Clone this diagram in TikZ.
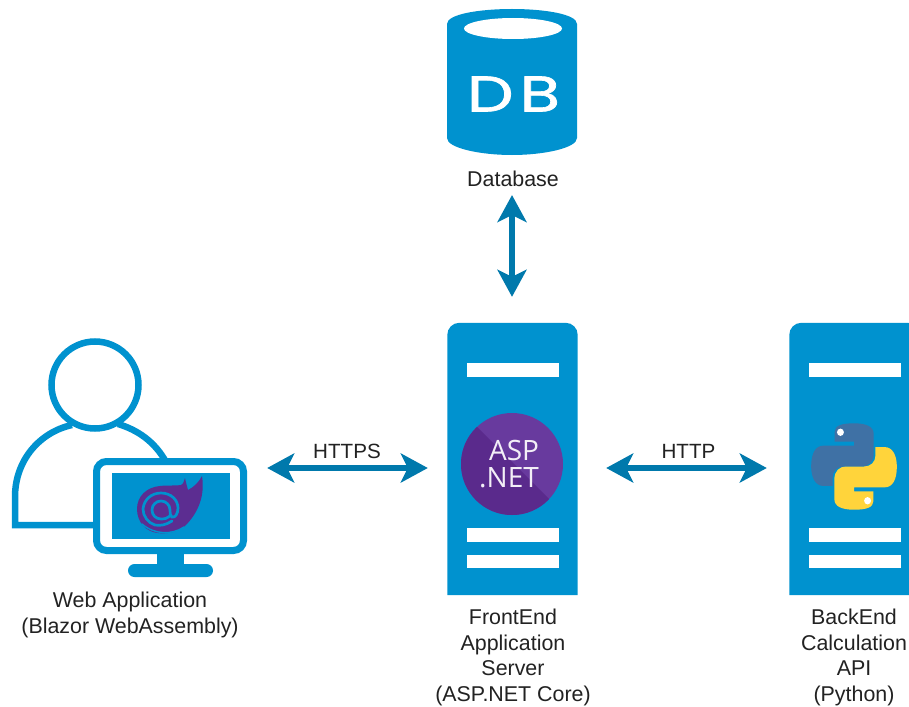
\documentclass[tikz,border=0pt]{standalone}
\usepackage{fontspec}
\setmainfont{Liberation Sans}
\newfontfamily\logofont{Open Sans}
\newfontfamily\dbfont[FakeBold=1.2]{Poppins}
\usetikzlibrary{arrows.meta}
\definecolor{iconblue}{HTML}{0092CF}
\definecolor{arrowblue}{HTML}{0079AC}
\definecolor{aspdark}{HTML}{5A2A8C}
\definecolor{asplight}{HTML}{683A9E}
\definecolor{blazor}{HTML}{5C2D91}
\definecolor{pyblue}{HTML}{3F71A5}
\definecolor{pyyellow}{HTML}{FFD43B}
\definecolor{labeltext}{HTML}{222222}
\tikzset{
  box/.style={rectangle,inner sep=0pt,minimum width=#1},
  lbl/.style={font=\fontsize{21.4}{25.7}\selectfont,text=labeltext,align=center,inner sep=0pt},
  biarrow/.style={draw=arrowblue,line width=5.2pt,{Stealth[length=27pt,width=29pt,inset=7pt]}-{Stealth[length=27pt,width=29pt,inset=7pt]}},
  outline/.style={draw=iconblue,line width=6.5pt},
  bar/.style={fill=white},
  spiral/.style={draw=iconblue,line width=2.7pt,line cap=round}
}
\newcommand{\serverbody}[1]{%
  \fill[iconblue,rounded corners=12pt] (#1.south west) -- (#1.north west) -- (#1.north east) [sharp corners] -- (#1.south east) -- cycle;
}
\newcommand{\serverbars}[1]{%
  \fill[bar] (#1,363) rectangle +(92,14);
  \fill[bar] (#1,528) rectangle +(92,14);
  \fill[bar] (#1,555) rectangle +(92,13);
}
\newcommand{\pysnake}{%
  (-19,-32) .. controls (-19,-38) and (-12,-40) .. (0,-40)
  .. controls (12,-40) and (19.3,-37) .. (19.3,-30) -- (19.3,-12)
  .. controls (19.3,-4) and (14,0) .. (8,0) -- (-10,0)
  .. controls (-16,0) and (-21,4) .. (-21,10) -- (-21,18) -- (-30,18)
  .. controls (-38,18) and (-42,10) .. (-42,0)
  .. controls (-42,-12) and (-38,-19.3) .. (-30,-19.3)
  -- (0,-19.3) -- (0,-23) -- (-19,-23) -- cycle
}
\begin{document}
\begin{tikzpicture}[x=1pt,y=-1pt]
\clip (0,0) rectangle (909,706);
\fill[white] (0,0) rectangle (909,706);

% anchors of the icons
\node[box=130pt,minimum height=146pt] (db) at (512,82) {};
\node[box=130pt,minimum height=272pt] (front) at (512.5,459) {};
\node[box=130pt,minimum height=272pt] (back) at (854.5,459) {};
\node[box=235pt,minimum height=234pt] (user) at (129.5,459) {};

% database
\fill[iconblue] (447,24) .. controls (447,14) and (480,9) .. (512,9)
  .. controls (544,9) and (577,14) .. (577,24) -- (577,138)
  .. controls (577,148) and (544,155) .. (512,155)
  .. controls (480,155) and (447,148) .. (447,138) -- cycle;
\fill[white] (513,28.5) ellipse[x radius=49pt,y radius=10.5pt];
\node[text=white,inner sep=0pt,font=\dbfont\fontsize{54}{54}\selectfont] (dbtext) at (513.5,94) {\scalebox{1.22}[0.93]{D\kern5pt B}};

% servers
\serverbody{front}
\serverbars{467}
\serverbody{back}
\serverbars{809}

% ASP.NET logo
\begin{scope}
  \clip (512,464) circle[radius=51pt];
  \fill[asplight] (460,410) rectangle (565,520);
  \fill[aspdark] (470,420) -- (552,502) -- (552,520) -- (460,520) -- (460,420) -- cycle;
\end{scope}
\node[text=white!92!asplight,inner sep=0pt,font=\logofont\fontsize{28}{28}\selectfont] (asp) at (514,450) {ASP};
\node[text=white!92!asplight,inner sep=0pt,font=\logofont\fontsize{28}{28}\selectfont] (net) at (509,478) {.NET};

% python logo
\begin{scope}[shift={(854,466.5)},xscale=1.02,yscale=1.08]
  \fill[pyblue] \pysnake;
  \fill[white] (-13.3,-31.7) circle[radius=3.4pt];
  \begin{scope}[rotate=180]
    \fill[pyyellow] \pysnake;
    \fill[white] (-13.3,-31.7) circle[radius=3.4pt];
  \end{scope}
\end{scope}

% person
\draw[outline] (95,385) circle[radius=43.5pt];
\draw[outline] (72,425) .. controls (40,432) and (15,460) .. (15,497) -- (15,525) -- (96,525);
\draw[outline] (118,424) .. controls (138,430) and (155,442) .. (166,462);

% monitor
\fill[iconblue] (157,550) rectangle (184,568);
\fill[iconblue,rounded corners=6.5pt] (128,564) rectangle (213,577);
\draw[draw=iconblue,fill=white,line width=7pt,rounded corners=10pt] (96.5,461.5) rectangle (243.5,550.5);
\fill[iconblue] (112,473) rectangle (230,539);

% blazor logo
\fill[blazor] (160,486) .. controls (168,485) and (176,486) .. (181,485)
  .. controls (185,483) and (183,480) .. (185,478)
  .. controls (186,483) and (187,486) .. (188,490)
  .. controls (194,487) and (199,482) .. (202,476)
  .. controls (205,495) and (199,512) .. (185,526)
  .. controls (176,533) and (165,534) .. (158,533)
  .. controls (146,532) and (137,522) .. (137,509)
  .. controls (137,496) and (147,487) .. (160,486) -- cycle;
\draw[spiral] (172,521) .. controls (166,525) and (160,526) .. (155,525)
  .. controls (148,523) and (143,516) .. (143,509)
  .. controls (144,499) and (152,493) .. (161,493)
  .. controls (171,493) and (178,500) .. (178,508)
  .. controls (178,514) and (175,518) .. (172,517)
  .. controls (170,516) and (170,513) .. (170,510)
  .. controls (170,505) and (166,501) .. (161,501)
  .. controls (156,501) and (152,505) .. (152,510)
  .. controls (152,515) and (156,519) .. (161,519)
  .. controls (165,519) and (168,518) .. (170,516);
\draw[iconblue,line width=1.4pt,line cap=round] (142,524) .. controls (155,535) and (172,535) .. (184,527);

% labels
\node[lbl] (dblabel) at (513,179) {Database};
\node[lbl] (userlabel) at (130,615) {Web Application\\(Blazor WebAssembly)};
\node[lbl] (frontlabel) at (513,657.5) {FrontEnd\\Application\\Server\\(ASP.NET Core)};
\node[lbl] (backlabel) at (854,657.5) {BackEnd\\Calculation\\API\\(Python)};
\node[lbl,font=\fontsize{20.6}{26}\selectfont] (https) at (347,451) {HTTPS};
\node[lbl,font=\fontsize{20.6}{26}\selectfont] (http) at (688.5,451) {HTTP};

% connectors
\draw[biarrow,shorten <=8pt,shorten >=26pt] ([xshift=-1pt]dblabel.south) -- ([xshift=-1pt]front.north -| dblabel.south);
\draw[biarrow,shorten <=20pt,shorten >=19.5pt] ([yshift=-9pt]user.east) -- ([yshift=-9pt]front.west);
\draw[biarrow,shorten <=28.5pt,shorten >=22.5pt] ([yshift=-9pt]front.east) -- ([yshift=-9pt]back.west);
\end{tikzpicture}
\end{document}
